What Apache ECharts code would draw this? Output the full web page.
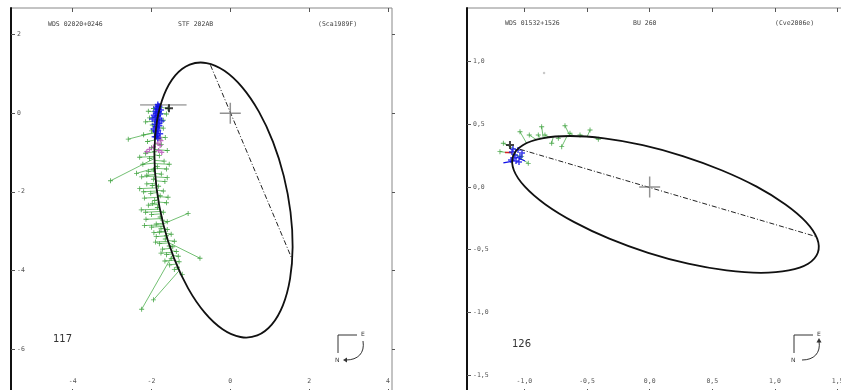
<!DOCTYPE html>
<html>
<head>
<meta charset="utf-8">
<script src="https://cdn.jsdelivr.net/npm/echarts@6/dist/echarts.min.js"></script>
<style>html,body{margin:0;padding:0;background:#fff}#c{width:841px;height:390px}</style>
</head>
<body>
<div id="c"></div>
<script>
// ===== Panel A: WDS 02020+0246 / STF 202AB (arcsec) =====
const titleA = ['WDS 02020+0246', 'STF 202AB', '(Sca1989F)'];
const countA = '117';
const xTicksA = [-4, -2, 0, 2, 4];
const yTicksA = [-6, -4, -2, 0, 2];
// apparent orbit, traced around the ellipse (closed curve)
const orbitA = [
  [0.259,-5.695],[0.685,-5.655],[1.051,-5.380],[1.335,-4.889],[1.516,-4.216],[1.582,-3.406],
  [1.528,-2.514],[1.358,-1.601],[1.084,-0.730],[0.725,0.040],[0.304,0.658],[-0.149,1.080],
  [-0.604,1.277],[-1.030,1.238],[-1.396,0.963],[-1.680,0.472],[-1.861,-0.201],[-1.927,-1.011],
  [-1.873,-1.903],[-1.704,-2.817],[-1.429,-3.687],[-1.070,-4.457],[-0.649,-5.075],[-0.196,-5.497]
];
// line of nodes through the primary
const nodesA = [[-0.503,1.221],[1.566,-3.710]];
// micrometric measures: [x, y, x on orbit, y on orbit]
const greenA = [
  [-2.08,0.05,-1.80,0.02],[-1.58,0.12,-1.76,0.15],[-1.95,0.12,-1.76,0.12],[-2.15,-0.22,-1.86,-0.20],
  [-1.70,-0.18,-1.86,-0.16],[-1.62,-0.02,-1.81,0.00],[-2.05,-0.12,-1.84,-0.10],[-1.98,-0.30,-1.87,-0.28],
  [-1.70,-0.38,-1.88,-0.36],[-2.00,-0.45,-1.885,-0.44],[-2.20,-0.55,-1.89,-0.50],[-1.65,-0.62,-1.90,-0.60],
  [-1.78,-0.66,-1.90,-0.64],[-2.10,-0.72,-1.905,-0.68],[-1.75,-0.80,-1.91,-0.78],[-2.00,-0.88,-1.915,-0.86],
  [-1.60,-0.95,-1.92,-0.92],[-1.92,-0.98,-1.92,-0.96],[-2.15,-1.02,-1.925,-0.98],[-1.80,-1.08,-1.925,-1.06],
  [-2.30,-1.12,-1.925,-1.10],[-2.05,-1.15,-1.925,-1.13],[-1.68,-1.22,-1.925,-1.20],[-2.22,-1.30,-1.925,-1.27],
  [-1.55,-1.30,-1.925,-1.28],[-1.85,-1.36,-1.92,-1.34],[-1.62,-1.42,-1.92,-1.40],[-1.95,-1.44,-1.92,-1.42],
  [-2.08,-1.48,-1.92,-1.47],[-1.75,-1.55,-1.915,-1.53],[-2.12,-1.58,-1.91,-1.56],[-2.25,-1.62,-1.91,-1.60],
  [-1.60,-1.64,-1.905,-1.62],[-1.95,-1.68,-1.90,-1.66],[-1.66,-1.74,-1.895,-1.72],[-2.12,-1.80,-1.89,-1.78],
  [-1.98,-1.84,-1.885,-1.82],[-1.82,-1.86,-1.88,-1.84],[-2.30,-1.92,-1.875,-1.90],[-1.70,-1.98,-1.87,-1.96],
  [-2.20,-2.00,-1.865,-1.98],[-2.02,-2.04,-1.86,-2.02],[-1.78,-2.10,-1.85,-2.08],[-1.58,-2.14,-1.845,-2.12],
  [-2.18,-2.16,-1.84,-2.14],[-1.92,-2.22,-1.83,-2.20],[-1.62,-2.28,-1.82,-2.26],[-1.98,-2.30,-1.815,-2.28],
  [-2.08,-2.34,-1.81,-2.32],[-1.85,-2.40,-1.795,-2.38],[-2.26,-2.46,-1.785,-2.44],[-1.70,-2.52,-1.77,-2.50],
  [-2.15,-2.52,-1.77,-2.50],[-2.00,-2.58,-1.76,-2.56],[-1.78,-2.64,-1.745,-2.62],[-2.14,-2.70,-1.73,-2.68],
  [-1.72,-2.72,-1.725,-2.70],[-1.60,-2.76,-1.72,-2.74],
  [-1.88,-2.82,-1.71,-2.80],[-2.18,-2.86,-1.695,-2.84],[-2.00,-2.90,-1.685,-2.88],[-1.76,-2.94,-1.665,-2.92],
  [-1.60,-2.96,-1.66,-2.94],[-1.80,-3.02,-1.65,-3.00],[-1.94,-3.04,-1.645,-3.02],[-1.50,-3.08,-1.63,-3.06],
  [-1.88,-3.14,-1.61,-3.12],[-1.62,-3.12,-1.615,-3.10],[-1.65,-3.20,-1.595,-3.18],[-1.42,-3.26,-1.575,-3.24],
  [-1.90,-3.28,-1.57,-3.26],[-1.80,-3.32,-1.555,-3.30],[-1.55,-3.38,-1.535,-3.36],[-1.46,-3.40,-1.53,-3.38],
  [-1.72,-3.46,-1.51,-3.44],[-1.37,-3.52,-1.49,-3.50],[-1.76,-3.56,-1.475,-3.54],[-1.62,-3.60,-1.465,-3.58],
  [-1.32,-3.64,-1.455,-3.62],[-1.50,-3.70,-1.435,-3.68],[-1.66,-3.76,-1.405,-3.74],[-1.30,-3.78,-1.405,-3.76],
  [-1.54,-3.86,-1.38,-3.84],[-1.34,-3.92,-1.35,-3.90],[-1.42,-3.98,-1.33,-3.96],[-1.22,-4.10,-1.28,-4.08],
  [-2.59,-0.66,-1.90,-0.48],[-3.04,-1.72,-1.92,-1.15],[-2.38,-1.53,-1.92,-1.40],[-1.07,-2.55,-1.71,-2.82],
  [-0.77,-3.69,-1.555,-3.30],[-2.25,-4.99,-1.46,-3.60],[-1.95,-4.75,-1.31,-4.02]
];
// interferometric measures
const blueA = [
  [-1.84,0.22],[-1.80,0.18],[-1.83,0.18],[-1.88,0.15],[-1.82,0.10],[-1.87,0.10],[-1.76,0.08],
  [-1.90,0.05],[-1.81,0.04],[-1.85,0.02],[-1.89,-0.01],[-1.78,-0.02],[-1.94,-0.05],[-1.83,-0.06],
  [-1.86,-0.08],[-1.90,-0.11],[-1.80,-0.12],[-1.98,-0.15],[-1.84,-0.16],[-1.88,-0.18],[-1.74,-0.20],
  [-1.87,-0.22],[-1.84,-0.24],[-1.82,-0.27],[-1.92,-0.28],[-1.80,-0.32],[-1.88,-0.33],[-1.87,-0.36],
  [-1.95,-0.40],[-1.85,-0.40],[-1.83,-0.44],[-1.90,-0.45],[-1.89,-0.48],[-1.78,-0.52],[-1.86,-0.52],
  [-1.86,-0.56],[-1.92,-0.60],[-1.88,-0.60],[-1.84,-0.64]
];
// photographic measures
const magentaA = [
  [-1.80,-0.62],[-1.76,-0.70],[-1.84,-0.76],[-1.78,-0.82],[-1.95,-0.86],
  [-2.05,-0.92],[-1.82,-0.95],[-1.74,-1.00],[-2.12,-0.98]
];
const companionA = [[-1.556,0.125]];
const barA = [[-2.29,0.21],[-1.11,0.21]];

// ===== Panel B: WDS 01532+1526 / BU 260 (arcsec) =====
const titleB = ['WDS 01532+1526', 'BU 260', '(Cve2006e)'];
const countB = '126';
const xTicksB = [-1, -0.5, 0, 0.5, 1, 1.5];
const yTicksB = [-1.5, -1, -0.5, 0, 0.5, 1];
const orbitB = [
  [-0.636,0.407],[-0.362,0.388],[-0.055,0.334],[0.264,0.247],[0.574,0.134],[0.854,0.003],
  [1.084,-0.139],[1.249,-0.280],[1.337,-0.412],[1.342,-0.525],[1.265,-0.612],[1.110,-0.666],
  [0.888,-0.685],[0.614,-0.666],[0.307,-0.612],[-0.012,-0.525],[-0.322,-0.412],[-0.602,-0.280],
  [-0.832,-0.139],[-0.996,0.003],[-1.084,0.134],[-1.090,0.247],[-1.013,0.334],[-0.858,0.388]
];
const nodesB = [[-1.035,0.301],[1.333,-0.397]];
const greenB = [
  [-1.035,0.441,-0.982,0.349],[-0.862,0.481,-0.849,0.389],[-0.676,0.489,-0.636,0.407],
  [-0.961,0.415,-0.90,0.375],[-0.836,0.415,-0.80,0.395],[-0.729,0.389,-0.72,0.402],
  [-0.636,0.429,-0.60,0.405],[-0.556,0.415,-0.52,0.403],[-0.782,0.349,-0.77,0.398],
  [-0.702,0.322,-0.66,0.405],[-0.410,0.381,-0.45,0.397],[-1.195,0.282,-1.09,0.27],
  [-1.168,0.349,-1.07,0.30],[-0.969,0.189,-1.06,0.25],[-1.022,0.242,-1.08,0.26],
  [-0.889,0.415,-0.87,0.385],[-0.476,0.455,-0.50,0.40]
];
const blueB = [
  [-1.099,0.279],[-1.075,0.255],[-1.051,0.295],[-1.083,0.231],[-1.035,0.239],
  [-1.067,0.207],[-1.107,0.215],[-1.019,0.271],[-1.043,0.200],[-1.091,0.303]
];
const blueLinesB = [
  [-1.168,0.192,-1.091,0.207],[-0.995,0.207,-1.067,0.239]
];
const redB = [[-1.155,0.279,-1.099,0.279]];
const strayB = [[-0.843,0.910]];
const companionB = [[-1.115,0.335]];

// ===== helpers =====
const PLUS_BIG = 'path://M0,9.3H20V10.7H0Z M9.3,0H10.7V20H9.3Z';
const PLUS_BOLD = 'path://M0,3H8V5H0Z M3,0H5V8H3Z';
const PLUS_THIN = 'path://M0,3.3H8V4.7H0Z M3.3,0H4.7V8H3.3Z';
const TXT = {fontFamily: 'DejaVu Sans Mono', fontSize: 6.5, color: '#555'};
const fmtA = v => String(v);
const fmtB = v => v.toFixed(1).replace('.', ',');

function xAxes(gi, min, max, ticks, fmt) {
  return [
    {type: 'value', gridIndex: gi, position: 'bottom', min, max,
      axisLine: {show: false, onZero: false}, splitLine: {show: false},
      axisTick: {inside: true, length: 4, customValues: ticks, lineStyle: {color: '#555'}},
      axisLabel: Object.assign({inside: true, margin: 8, customValues: ticks, formatter: fmt}, TXT)},
    {type: 'value', gridIndex: gi, position: 'top', min, max,
      axisLine: {show: false, onZero: false}, splitLine: {show: false},
      axisTick: {inside: true, length: 4, customValues: ticks, lineStyle: {color: '#555'}},
      axisLabel: {show: false}}
  ];
}
function yAxes(gi, min, max, ticks, fmt) {
  return [
    {type: 'value', gridIndex: gi, position: 'left', min, max,
      axisLine: {show: true, onZero: false, lineStyle: {color: '#111', width: 2}}, splitLine: {show: false},
      axisTick: {inside: true, length: 4, customValues: ticks, lineStyle: {color: '#555'}},
      axisLabel: Object.assign({inside: true, margin: 6, customValues: ticks, formatter: fmt}, TXT)},
    {type: 'value', gridIndex: gi, position: 'right', min, max,
      axisLine: {show: false, onZero: false}, splitLine: {show: false},
      axisTick: {inside: false, length: 3, customValues: ticks, lineStyle: {color: '#555'}},
      axisLabel: {show: false}}
  ];
}

// closed Catmull-Rom curve through the orbit points, in pixel space of the grid
function orbitSeries(points, ax) {
  return Object.assign({
    type: 'custom', z: 6, silent: true, clip: true,
    data: [[points[0][0], points[0][1]]],
    renderItem: function (params, api) {
      const p = points.map(v => api.coord(v));
      const n = p.length;
      let d = 'M' + p[0][0] + ',' + p[0][1];
      for (let i = 0; i < n; i++) {
        const p0 = p[(i - 1 + n) % n], p1 = p[i], p2 = p[(i + 1) % n], p3 = p[(i + 2) % n];
        const c1 = [p1[0] + (p2[0] - p0[0]) / 6, p1[1] + (p2[1] - p0[1]) / 6];
        const c2 = [p2[0] - (p3[0] - p1[0]) / 6, p2[1] - (p3[1] - p1[1]) / 6];
        d += 'C' + c1[0] + ',' + c1[1] + ' ' + c2[0] + ',' + c2[1] + ' ' + p2[0] + ',' + p2[1];
      }
      d += 'Z';
      return {type: 'path', shape: {pathData: d},
        style: {stroke: '#111', lineWidth: 1.8, fill: null}};
    }
  }, ax);
}

function panelSeries(xi, yi, d) {
  const ax = {xAxisIndex: xi, yAxisIndex: yi};
  const out = [];
  out.push(Object.assign({type: 'lines', coordinateSystem: 'cartesian2d', silent: true, z: 2,
    lineStyle: {color: '#4fb04f', width: 0.8, opacity: 1},
    data: d.green.map(r => ({coords: [[r[0], r[1]], [r[2], r[3]]]}))}, ax));
  out.push(Object.assign({type: 'scatter', symbol: PLUS_THIN, symbolSize: 5, z: 3,
    itemStyle: {color: '#2f9a2f'}, data: d.green.map(r => [r[0], r[1]])}, ax));
  if (d.magenta) out.push(Object.assign({type: 'scatter', symbol: PLUS_BOLD, symbolSize: 5, z: 4,
    itemStyle: {color: '#b54bb5'}, data: d.magenta}, ax));
  if (d.blueLines) out.push(Object.assign({type: 'lines', coordinateSystem: 'cartesian2d', z: 4,
    lineStyle: {color: '#1010e8', width: 1.2, opacity: 1},
    data: d.blueLines.map(r => ({coords: [[r[0], r[1]], [r[2], r[3]]]}))}, ax));
  if (d.red) out.push(Object.assign({type: 'lines', coordinateSystem: 'cartesian2d', z: 4,
    lineStyle: {color: '#d42020', width: 1.4, opacity: 1},
    data: d.red.map(r => ({coords: [[r[0], r[1]], [r[2], r[3]]]}))}, ax));
  out.push(Object.assign({type: 'scatter', symbol: PLUS_BOLD, symbolSize: 6, z: 5,
    itemStyle: {color: '#1010e8'}, data: d.blue}, ax));
  if (d.stray) out.push(Object.assign({type: 'scatter', symbol: 'circle', symbolSize: 2.5, z: 3,
    itemStyle: {color: '#bbb'}, data: d.stray}, ax));
  if (d.bar) out.push(Object.assign({type: 'line', data: d.bar, showSymbol: false, z: 3,
    lineStyle: {color: '#777', width: 1}}, ax));
  out.push(orbitSeries(d.orbit, ax));
  out.push(Object.assign({type: 'line', data: d.nodes, showSymbol: false, z: 6,
    lineStyle: {color: '#222', width: 1, type: [5, 2, 1, 2]}}, ax));
  out.push(Object.assign({type: 'scatter', symbol: PLUS_BIG, symbolSize: 21, z: 7,
    itemStyle: {color: '#777'}, data: [[0, 0]]}, ax));
  out.push(Object.assign({type: 'scatter', symbol: PLUS_BOLD, symbolSize: 8, z: 8,
    itemStyle: {color: '#111'}, data: d.companion}, ax));
  return out;
}

function label(text, x, y, font, fill) {
  return {type: 'text', x, y, silent: true,
    style: {text, font, fill: fill || '#444', align: 'left', verticalAlign: 'middle'}};
}
function compass(x0, y0, clockwise) {
  const g = [
    {type: 'polyline', silent: true, shape: {points: [[x0 + 19, y0], [x0, y0], [x0, y0 + 18]]},
      style: {stroke: '#333', lineWidth: 1, fill: null}},
    label('E', x0 + 23, y0 - 1, '6px DejaVu Sans', '#333'),
    label('N', x0 - 3, y0 + 25, '6px DejaVu Sans', '#333'),
    {type: 'bezierCurve', silent: true,
      shape: {x1: x0 + 25, y1: y0 + 6, cpx1: x0 + 27, cpy1: y0 + 18, cpx2: x0 + 20, cpy2: y0 + 25, x2: x0 + 8, y2: y0 + 25},
      style: {stroke: '#333', lineWidth: 1, fill: null}}
  ];
  g.push(clockwise
    ? {type: 'polygon', silent: true, shape: {points: [[x0 + 5, y0 + 25], [x0 + 9, y0 + 22.5], [x0 + 9, y0 + 27.5]]}, style: {fill: '#333'}}
    : {type: 'polygon', silent: true, shape: {points: [[x0 + 25, y0 + 3], [x0 + 22.5, y0 + 7.5], [x0 + 27.5, y0 + 7.5]]}, style: {fill: '#333'}});
  return g;
}

const chart = echarts.init(document.getElementById('c'), null, {renderer: 'canvas'});
const headFont = '6.5px DejaVu Sans Mono';
chart.setOption({
  animation: false,
  backgroundColor: '#fff',
  grid: [
    {left: 11, top: 8, width: 381, height: 385, show: true, borderColor: '#888', borderWidth: 1, outerBoundsMode: 'none'},
    {left: 467, top: 8, width: 380, height: 385, show: true, borderColor: '#888', borderWidth: 1, outerBoundsMode: 'none'}
  ],
  xAxis: [].concat(
    xAxes(0, -5.566, 4.104, xTicksA, fmtA),
    xAxes(1, -1.458, 1.575, xTicksB, fmtB)
  ),
  yAxis: [].concat(
    yAxes(0, -7.12, 2.677, yTicksA, fmtA),
    yAxes(1, -1.644, 1.4286, yTicksB, fmtB)
  ),
  series: [].concat(
    panelSeries(0, 0, {orbit: orbitA, nodes: nodesA, green: greenA, blue: blueA, magenta: magentaA,
      companion: companionA, bar: barA}),
    panelSeries(2, 2, {orbit: orbitB, nodes: nodesB, green: greenB, blue: blueB, blueLines: blueLinesB,
      red: redB, stray: strayB, companion: companionB})
  ),
  graphic: [].concat(
    [label(titleA[0], 48, 24, headFont), label(titleA[1], 178, 24, headFont), label(titleA[2], 318, 24, headFont),
     label(titleB[0], 505, 23, headFont), label(titleB[1], 633, 23, headFont), label(titleB[2], 775, 23, headFont),
     label(countA, 53, 339, '10px DejaVu Sans', '#333'), label(countB, 512, 344, '10px DejaVu Sans', '#333')],
    compass(338, 335, true),
    compass(794, 335, false)
  )
});
</script>
</body>
</html>
